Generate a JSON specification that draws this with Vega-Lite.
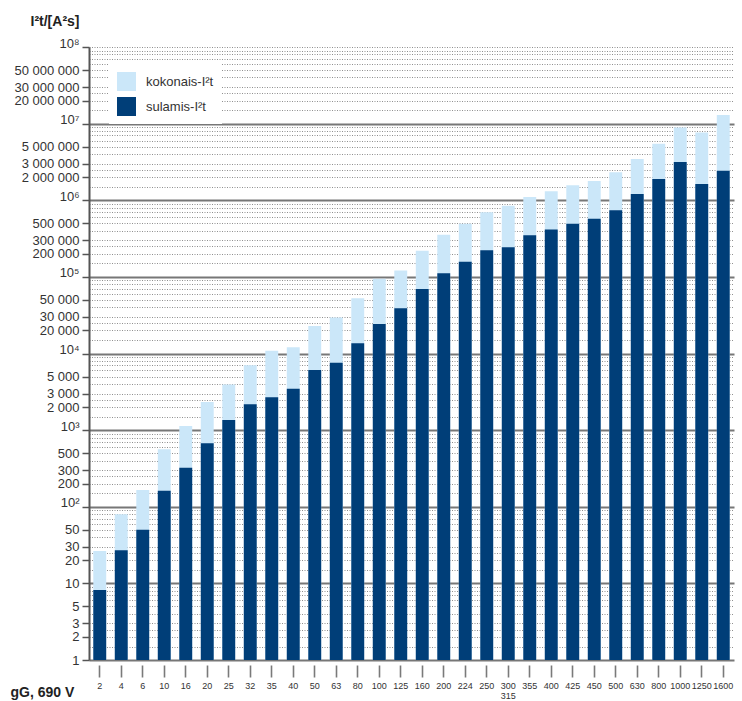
{
  "$schema": "https://vega.github.io/schema/vega-lite/v6.json",
  "width": 645,
  "height": 613,
  "autosize": {"type": "none"},
  "padding": {"left": 89, "top": 47, "right": 8, "bottom": 41},
  "background": "white",
  "config": {"view": {"stroke": null}, "font": "Liberation Sans"},
  "data": {
    "values": [
      {"In": "2", "sarja": "kokonais-I²t", "I2t": 26.5},
      {"In": "4", "sarja": "kokonais-I²t", "I2t": 80},
      {"In": "6", "sarja": "kokonais-I²t", "I2t": 166},
      {"In": "10", "sarja": "kokonais-I²t", "I2t": 563},
      {"In": "16", "sarja": "kokonais-I²t", "I2t": 1135},
      {"In": "20", "sarja": "kokonais-I²t", "I2t": 2330},
      {"In": "25", "sarja": "kokonais-I²t", "I2t": 3930},
      {"In": "32", "sarja": "kokonais-I²t", "I2t": 7030},
      {"In": "35", "sarja": "kokonais-I²t", "I2t": 10900},
      {"In": "40", "sarja": "kokonais-I²t", "I2t": 12100},
      {"In": "50", "sarja": "kokonais-I²t", "I2t": 22900},
      {"In": "63", "sarja": "kokonais-I²t", "I2t": 29400},
      {"In": "80", "sarja": "kokonais-I²t", "I2t": 52700},
      {"In": "100", "sarja": "kokonais-I²t", "I2t": 94200},
      {"In": "125", "sarja": "kokonais-I²t", "I2t": 120800},
      {"In": "160", "sarja": "kokonais-I²t", "I2t": 218500},
      {"In": "200", "sarja": "kokonais-I²t", "I2t": 353500},
      {"In": "224", "sarja": "kokonais-I²t", "I2t": 492000},
      {"In": "250", "sarja": "kokonais-I²t", "I2t": 699600},
      {"In": "300/315", "sarja": "kokonais-I²t", "I2t": 845000},
      {"In": "355", "sarja": "kokonais-I²t", "I2t": 1100000},
      {"In": "400", "sarja": "kokonais-I²t", "I2t": 1309000},
      {"In": "425", "sarja": "kokonais-I²t", "I2t": 1567000},
      {"In": "450", "sarja": "kokonais-I²t", "I2t": 1787000},
      {"In": "500", "sarja": "kokonais-I²t", "I2t": 2311000},
      {"In": "630", "sarja": "kokonais-I²t", "I2t": 3451000},
      {"In": "800", "sarja": "kokonais-I²t", "I2t": 5445000},
      {"In": "1000", "sarja": "kokonais-I²t", "I2t": 8870000},
      {"In": "1250", "sarja": "kokonais-I²t", "I2t": 7640000},
      {"In": "1600", "sarja": "kokonais-I²t", "I2t": 12930000},
      {"In": "2", "sarja": "sulamis-I²t", "I2t": 8.2},
      {"In": "4", "sarja": "sulamis-I²t", "I2t": 27},
      {"In": "6", "sarja": "sulamis-I²t", "I2t": 50},
      {"In": "10", "sarja": "sulamis-I²t", "I2t": 162},
      {"In": "16", "sarja": "sulamis-I²t", "I2t": 324},
      {"In": "20", "sarja": "sulamis-I²t", "I2t": 675},
      {"In": "25", "sarja": "sulamis-I²t", "I2t": 1360},
      {"In": "32", "sarja": "sulamis-I²t", "I2t": 2180},
      {"In": "35", "sarja": "sulamis-I²t", "I2t": 2690},
      {"In": "40", "sarja": "sulamis-I²t", "I2t": 3480},
      {"In": "50", "sarja": "sulamis-I²t", "I2t": 6110},
      {"In": "63", "sarja": "sulamis-I²t", "I2t": 7600},
      {"In": "80", "sarja": "sulamis-I²t", "I2t": 13600},
      {"In": "100", "sarja": "sulamis-I²t", "I2t": 24300},
      {"In": "125", "sarja": "sulamis-I²t", "I2t": 39000},
      {"In": "160", "sarja": "sulamis-I²t", "I2t": 69700},
      {"In": "200", "sarja": "sulamis-I²t", "I2t": 111700},
      {"In": "224", "sarja": "sulamis-I²t", "I2t": 157000},
      {"In": "250", "sarja": "sulamis-I²t", "I2t": 223300},
      {"In": "300/315", "sarja": "sulamis-I²t", "I2t": 244300},
      {"In": "355", "sarja": "sulamis-I²t", "I2t": 350000},
      {"In": "400", "sarja": "sulamis-I²t", "I2t": 416000},
      {"In": "425", "sarja": "sulamis-I²t", "I2t": 494000},
      {"In": "450", "sarja": "sulamis-I²t", "I2t": 573000},
      {"In": "500", "sarja": "sulamis-I²t", "I2t": 742000},
      {"In": "630", "sarja": "sulamis-I²t", "I2t": 1211000},
      {"In": "800", "sarja": "sulamis-I²t", "I2t": 1897000},
      {"In": "1000", "sarja": "sulamis-I²t", "I2t": 3155000},
      {"In": "1250", "sarja": "sulamis-I²t", "I2t": 1633000},
      {"In": "1600", "sarja": "sulamis-I²t", "I2t": 2432000}
    ]
  },
  "encoding": {
    "x": {
      "field": "In",
      "type": "ordinal",
      "sort": null,
      "scale": {"paddingInner": 0.4, "paddingOuter": 0.2},
      "axis": {
        "title": "gG, 690 V",
        "domain": false,
        "offset": 5,
        "tickSize": 12,
        "tickColor": "#7a7a7a",
        "tickWidth": 1.6,
        "labelPadding": 4,
        "labelAngle": 0,
        "labelFontSize": 9,
        "labelColor": "#333333",
        "labelLineHeight": 10,
        "labelExpr": "split(datum.label, '/')",
        "labelOverlap": false,
        "titleFontSize": 14,
        "titleFontWeight": "bold",
        "titleColor": "#222222",
        "titleAlign": "left",
        "titleBaseline": "alphabetic",
        "titleX": -79,
        "titleY": 31
      }
    },
    "y": {
      "field": "I2t",
      "type": "quantitative",
      "stack": null,
      "scale": {"type": "log", "domain": [1, 100000000], "nice": false},
      "axis": {
        "title": "I²t/[A²s]",
        "titleAngle": 0,
        "titleAlign": "left",
        "titleBaseline": "alphabetic",
        "titleX": -59,
        "titleY": -22,
        "titleFontSize": 14,
        "titleFontWeight": "bold",
        "titleColor": "#222222",
        "values": [
          1, 1.5, 2, 2.5, 3, 4, 5, 6, 7, 8, 9,
          10, 15, 20, 25, 30, 40, 50, 60, 70, 80, 90,
          100, 150, 200, 250, 300, 400, 500, 600, 700, 800, 900,
          1000, 1500, 2000, 2500, 3000, 4000, 5000, 6000, 7000, 8000, 9000,
          10000, 15000, 20000, 25000, 30000, 40000, 50000, 60000, 70000, 80000, 90000,
          100000, 150000, 200000, 250000, 300000, 400000, 500000, 600000, 700000, 800000, 900000,
          1000000, 1500000, 2000000, 2500000, 3000000, 4000000, 5000000, 6000000, 7000000, 8000000, 9000000,
          10000000, 15000000, 20000000, 25000000, 30000000, 40000000, 50000000, 60000000, 70000000, 80000000, 90000000,
          100000000
        ],
        "labelExpr": "datum.value == 100 ? '10²' : datum.value == 1000 ? '10³' : datum.value == 10000 ? '10⁴' : datum.value == 100000 ? '10⁵' : datum.value == 1000000 ? '10⁶' : datum.value == 10000000 ? '10⁷' : datum.value == 100000000 ? '10⁸' : (datum.value == 1 || datum.value == 10 || indexof([2, 3, 5], datum.value / pow(10, floor(log(datum.value) / LN10 + 1e-9))) >= 0) ? replace(replace(format(datum.value, ','), ',', ' '), ',', ' ') : ''",
        "labelFontSize": 13,
        "labelColor": "#333333",
        "labelPadding": 3,
        "labelFlush": false,
        "labelOverlap": false,
        "labelBound": false,
        "labelBaseline": {
          "condition": {"test": "indexof([100, 1000, 10000, 100000, 1000000, 10000000, 100000000], datum.value) >= 0", "value": "alphabetic"},
          "value": "middle"
        },
        "domainColor": "#555555",
        "domainWidth": 2,
        "tickSize": 7,
        "tickColor": "#555555",
        "tickWidth": 1.5,
        "tickOpacity": {
          "condition": {"test": "indexof([1, 10, 100, 1000, 10000, 100000, 1000000, 10000000, 100000000], datum.value) >= 0 || indexof([2, 3, 5], datum.value / pow(10, floor(log(datum.value) / LN10 + 1e-9))) >= 0", "value": 1},
          "value": 0
        },
        "grid": true,
        "gridColor": {
          "condition": {"test": "indexof([1, 10, 100, 1000, 10000, 100000, 1000000, 10000000], datum.value) >= 0", "value": "#777777"},
          "value": "#8f8f8f"
        },
        "gridDash": {
          "condition": {"test": "indexof([1, 10, 100, 1000, 10000, 100000, 1000000, 10000000], datum.value) >= 0", "value": []},
          "value": [1, 1.5]
        },
        "gridWidth": {
          "condition": {"test": "indexof([1, 10, 100, 1000, 10000, 100000, 1000000, 10000000], datum.value) >= 0", "value": 1.8},
          "value": 1
        }
      }
    },
    "color": {
      "field": "sarja",
      "type": "nominal",
      "scale": {"domain": ["kokonais-I²t", "sulamis-I²t"], "range": ["#cbe7f9", "#003e78"]},
      "legend": {
        "title": null,
        "orient": "none",
        "legendX": 20,
        "legendY": 17,
        "padding": 8,
        "fillColor": "white",
        "symbolType": "square",
        "symbolSize": 360,
        "symbolStrokeWidth": 0,
        "labelFontSize": 13,
        "labelColor": "#333333",
        "labelOffset": 10,
        "rowPadding": 6
      }
    }
  },
  "layer": [
    {
      "transform": [{"filter": "datum.sarja == 'kokonais-I²t'"}],
      "mark": {"type": "bar"}
    },
    {
      "transform": [{"filter": "datum.sarja == 'sulamis-I²t'"}],
      "mark": {"type": "bar"}
    }
  ]
}
